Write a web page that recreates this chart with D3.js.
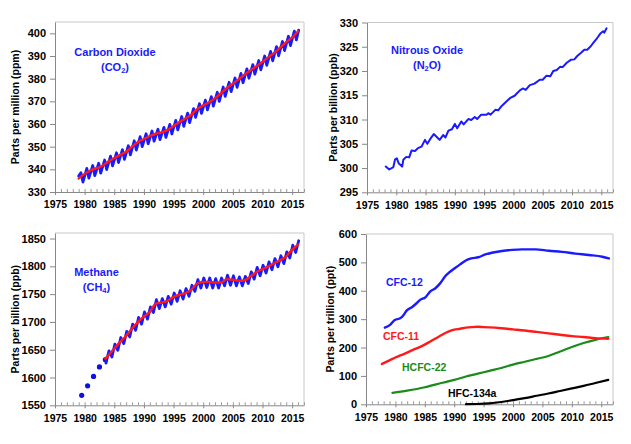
<!DOCTYPE html>
<html><head><meta charset="utf-8">
<script src="https://cdn.jsdelivr.net/npm/d3@7/dist/d3.min.js"></script>
<style>
body{margin:0;background:#fff;}
svg{display:block;font-family:"Liberation Sans",Arial,sans-serif;}
</style></head>
<body><svg id="chart" width="631" height="444"></svg>
<script>
// ---------------- DATA ----------------
const xTickYears = [1975,1980,1985,1990,1995,2000,2005,2010,2015];

// Carbon dioxide (ppm): trend at Jan 1 of each year
const co2TrendYears = [1979,1980,1981,1982,1983,1984,1985,1986,1987,1988,1989,1990,1991,1992,1993,1994,1995,1996,1997,1998,1999,2000,2001,2002,2003,2004,2005,2006,2007,2008,2009,2010,2011,2012,2013,2014,2015,2016];
const co2Trend = [336.0,338.0,339.6,340.5,341.6,343.4,345.0,346.4,347.8,350.0,352.1,353.4,354.7,355.7,356.3,357.4,359.1,360.9,362.4,364.1,366.6,368.2,369.6,371.4,373.6,375.9,377.8,379.8,381.8,383.7,385.5,387.4,389.5,391.4,393.8,396.1,398.2,400.9];
// monthly-series seasonal maximum (around May) and minimum (around Sep) per year
const co2SeasonYears = [1979,1980,1981,1982,1983,1984,1985,1986,1987,1988,1989,1990,1991,1992,1993,1994,1995,1996,1997,1998,1999,2000,2001,2002,2003,2004,2005,2006,2007,2008,2009,2010,2011,2012,2013,2014,2015];
const co2SeasonMax = [338.5,340.4,341.7,342.7,344.1,345.8,347.3,348.7,350.4,352.6,354.4,355.7,356.9,357.7,358.5,359.8,361.6,363.3,364.8,366.8,369.0,370.5,372.1,374.0,376.3,378.4,380.3,382.3,384.3,386.2,388.0,390.0,392.0,394.1,396.4,398.7,401.0];
const co2SeasonMin = [334.4,336.1,337.2,338.3,339.9,341.5,343.0,344.4,346.4,348.5,350.0,351.3,352.4,353.1,354.1,355.6,357.4,359.0,360.6,362.9,364.7,366.2,367.9,370.0,372.2,374.3,376.2,378.2,380.2,382.0,383.9,385.9,387.9,390.1,392.4,394.6,397.1];
const co2SeriesStart = [1979.0, 337.0];
const co2SeriesEnd = [2016.1, 401.4];

// Nitrous oxide (ppb)
const n2oYears = [1978.2,1978.8,1979.5,1979.8,1980.1,1980.4,1981.0,1981.2,1981.7,1982.2,1982.6,1983.2,1983.7,1984.3,1984.9,1985.3,1985.8,1986.4,1987.0,1987.4,1988.0,1988.4,1988.9,1989.5,1990.0,1990.4,1991.1,1991.5,1992.3,1992.8,1993.4,1993.8,1994.5,1995.4,1995.7,1996.1,1996.9,1997.4,1998.0,1998.8,1999.4,2000.2,2001.1,2001.6,2002.1,2002.8,2003.6,2004.5,2005.0,2005.6,2006.3,2006.8,2007.4,2008.0,2008.4,2009.1,2009.8,2010.4,2010.9,2011.5,2012.1,2012.6,2013.2,2013.7,2014.3,2014.9,2015.3,2015.5,2015.9];
const n2oValues = [300.3,299.7,300.2,301.8,302.0,301.0,300.3,301.7,302.3,302.2,303.6,303.5,304.1,304.4,305.8,305.0,306.0,307.0,306.3,305.8,306.8,306.3,307.7,308.0,309.1,308.2,309.6,309.0,310.1,309.9,310.5,310.1,311.0,311.0,311.3,311.0,312.0,311.9,312.8,313.7,314.4,314.9,316.0,316.4,316.1,317.1,317.4,318.2,318.2,319.0,318.9,320.0,320.2,320.9,320.8,321.7,322.3,322.4,323.1,323.7,324.4,324.4,325.1,325.9,326.8,327.8,328.2,327.9,328.8];

// Methane (ppb)
const ch4FlaskYears = [1979.5,1980.5,1981.5,1982.5,1983.5];
const ch4FlaskValues = [1568,1585,1602,1619,1632];
const ch4TrendYears = [1983.5,1984,1985,1986,1987,1988,1989,1990,1991,1992,1993,1994,1995,1996,1997,1998,1999,2000,2001,2002,2003,2004,2005,2006,2007,2008,2009,2010,2011,2012,2013,2014,2015,2016];
const ch4Trend = [1634,1640,1652,1664,1675,1688,1700,1710,1718,1733,1735,1738,1745,1749,1752,1758,1769,1772,1772,1771,1771,1777,1776,1774,1775,1782,1790,1795,1800,1806,1811,1818,1830,1839];
const ch4SeasonYears = [1984,1985,1986,1987,1988,1989,1990,1991,1992,1993,1994,1995,1996,1997,1998,1999,2000,2001,2002,2003,2004,2005,2006,2007,2008,2009,2010,2011,2012,2013,2014,2015];
const ch4SeasonMax = [1648,1660,1672,1683,1696,1708,1718,1727,1740,1742,1746,1752,1756,1760,1766,1776,1779,1779,1778,1779,1784,1783,1781,1782,1790,1798,1802,1808,1814,1819,1826,1838];
const ch4SeasonMin = [1637,1649,1661,1673,1685,1696,1705,1717,1724,1727,1732,1737,1741,1746,1755,1761,1762,1761,1761,1765,1766,1765,1765,1769,1777,1783,1788,1794,1799,1805,1815,1825];
const ch4SeriesStart = [1983.6, 1626];
const ch4SeriesEnd = [2016.1, 1846];

// Halocarbons (ppt)
const cfc12Years = [1978.2,1979.1,1979.9,1980.8,1981.4,1981.9,1982.8,1983.6,1984.2,1985.1,1985.9,1986.8,1987.6,1988.5,1989.3,1990.2,1991.0,1991.9,1992.9,1994.1,1995.3,1996.4,1998.1,1999.8,2001.5,2003.8,2006.1,2008.3,2010.6,2012.9,2015.2,2016.3];
const cfc12Values = [270,280,297,303,315,330,342,356,368,377,397,409,426,452,467,481,493,506,514,518,528,534,540,544,546,546,541,537,531,526,520,514];
const cfc11Years = [1977.7,1979,1980,1981.5,1983,1984.5,1986,1987.5,1989,1990,1991,1992,1993,1994,1995,1996,1998,2000,2002,2004,2006,2008,2010,2012,2014,2016.2];
const cfc11Values = [142,155,165,178,192,205,222,240,256,263,266,270,272,273,272,271,268,264,260,255,250,245,240,237,233,231];
const hcfc22Years = [1979.5,1982,1985,1988,1990,1992,1994,1996,1998,2000,2002,2004,2006,2008,2010,2012,2014,2016.2];
const hcfc22Values = [40,48,60,76,86,98,108,118,128,140,150,160,170,186,202,216,227,237];
const hfc134aYears = [1992,1994,1996,1998,2000,2002,2004,2006,2008,2010,2012,2014,2016.2];
const hfc134aValues = [0.5,1,3,8,15,22,30,38,47,56,65,75,86];

// ---------------- DRAWING ----------------
const svg = d3.select("#chart");
const BLUE = "#1a1aff", RED = "#ff1a1a", GREEN = "#1a8c1a";
const seasonPhaseMax = 0.37, seasonPhaseMin = 0.71;

function panel(cfg){
  const g = svg.append("g");
  const x = d3.scaleLinear().domain([1975,2017]).range([cfg.left,cfg.right]);
  const y = d3.scaleLinear().domain(cfg.yDomain).range([cfg.bottom,cfg.top]);
  g.append("path").attr("d",`M${cfg.left},${cfg.top}H${cfg.right}V${cfg.bottom}`)
    .attr("fill","none").attr("stroke","#c8c8c8").attr("stroke-width",1);
  const minor = g.append("g").attr("transform",`translate(0,${cfg.bottom})`)
    .call(d3.axisBottom(x).tickValues(d3.range(1975,2018,1)).tickSize(-3).tickSizeOuter(0).tickFormat(""));
  minor.select(".domain").remove();
  minor.selectAll("line").attr("stroke","#999");
  const xa = g.append("g").attr("transform",`translate(0,${cfg.bottom})`)
    .call(d3.axisBottom(x).tickValues(xTickYears).tickSize(3).tickSizeOuter(0).tickPadding(6).tickFormat(d3.format("d")));
  xa.select(".domain").attr("stroke","#888");
  xa.selectAll("line").attr("stroke","#888");
  xa.selectAll("text").attr("font-size","10.5px").attr("font-weight","bold").attr("fill","#000");
  const ya = g.append("g").attr("transform",`translate(${cfg.left},0)`)
    .call(d3.axisLeft(y).tickValues(cfg.yTicks).tickSize(5).tickSizeOuter(0).tickPadding(4).tickFormat(d3.format("d")));
  ya.select(".domain").attr("stroke","#888");
  ya.selectAll("line").attr("stroke","#888");
  ya.selectAll("text").attr("font-size","11px").attr("font-weight","bold").attr("fill","#000");
  g.append("text").attr("transform",`translate(${cfg.labelX},${(cfg.top+cfg.bottom)/2}) rotate(-90)`)
    .attr("text-anchor","middle").attr("dominant-baseline","central")
    .attr("font-size","10.5px").attr("font-weight","bold").text(cfg.yLabel);
  return {g,x,y};
}

function lineFrom(p, pts, color, w, curve){
  p.g.append("path").datum(pts)
    .attr("d", d3.line().x(d=>p.x(d[0])).y(d=>p.y(d[1])).curve(curve||d3.curveLinear))
    .attr("fill","none").attr("stroke",color).attr("stroke-width",w)
    .attr("stroke-linejoin","round").attr("stroke-linecap","round");
}
function seasonal(start, yrs, mx, mn, end, phMax, phMin){
  const pts=[start];
  yrs.forEach((yr,i)=>{ pts.push([yr+phMax,mx[i]]); pts.push([yr+phMin,mn[i]]); });
  pts.push(end);
  return pts;
}
function title(p, x, y1, y2, main, pre, sub, post, color){
  p.g.append("text").attr("x",x).attr("y",y1).attr("text-anchor","middle")
    .attr("font-size","11px").attr("font-weight","bold").attr("fill",color).text(main);
  const t = p.g.append("text").attr("x",x).attr("y",y2).attr("text-anchor","middle")
    .attr("font-size","11px").attr("font-weight","bold").attr("fill",color);
  t.append("tspan").text(pre);
  t.append("tspan").attr("font-size","7.5px").attr("dy","2.5").text(sub);
  t.append("tspan").attr("dy","-2.5").text(post);
}
function label(p, x, y, txt, color){
  p.g.append("text").attr("x",x).attr("y",y).attr("font-size","10.5px")
    .attr("font-weight","bold").attr("fill",color).text(txt);
}

// Panel 1: CO2
const p1 = panel({left:55,right:304,top:22,bottom:192,yDomain:[330,405],yTicks:[330,340,350,360,370,380,390,400],labelX:15,yLabel:"Parts per million (ppm)"});
lineFrom(p1, seasonal(co2SeriesStart, co2SeasonYears, co2SeasonMax, co2SeasonMin, co2SeriesEnd, seasonPhaseMax, seasonPhaseMin), BLUE, 2.8);
lineFrom(p1, co2TrendYears.map((d,i)=>[d,co2Trend[i]]), RED, 2.4, d3.curveMonotoneX);
title(p1, 115, 56, 70.5, "Carbon Dioxide", "(CO", "2", ")", BLUE);

// Panel 2: N2O
const p2 = panel({left:367,right:613,top:22.5,bottom:192.3,yDomain:[295,330],yTicks:[295,300,305,310,315,320,325,330],labelX:333,yLabel:"Parts per billion (ppb)"});
lineFrom(p2, n2oYears.map((d,i)=>[d,n2oValues[i]]), BLUE, 2);
title(p2, 427, 54, 68.5, "Nitrous Oxide", "(N", "2", "O)", BLUE);

// Panel 3: CH4
const p3 = panel({left:55,right:304,top:233,bottom:405.3,yDomain:[1550,1860],yTicks:[1550,1600,1650,1700,1750,1800,1850],labelX:15,yLabel:"Parts per billion (ppb)"});
p3.g.selectAll("circle.flask").data(ch4FlaskYears).join("circle")
  .attr("cx",d=>p3.x(d)).attr("cy",(d,i)=>p3.y(ch4FlaskValues[i])).attr("r",2.6).attr("fill","#1010e0");
lineFrom(p3, seasonal(ch4SeriesStart, ch4SeasonYears, ch4SeasonMax, ch4SeasonMin, ch4SeriesEnd, 0.1, 0.6), BLUE, 2.8);
lineFrom(p3, ch4TrendYears.map((d,i)=>[d,ch4Trend[i]]), RED, 2.4, d3.curveMonotoneX);
title(p3, 96.5, 276, 290.5, "Methane", "(CH", "4", ")", BLUE);

// Panel 4: halocarbons
const p4 = panel({left:366,right:613,top:234,bottom:404.3,yDomain:[0,600],yTicks:[0,100,200,300,400,500,600],labelX:330,yLabel:"Parts per trillion (ppt)"});
lineFrom(p4, hfc134aYears.map((d,i)=>[d,hfc134aValues[i]]), "#000", 2.2, d3.curveMonotoneX);
lineFrom(p4, hcfc22Years.map((d,i)=>[d,hcfc22Values[i]]), GREEN, 2.2, d3.curveMonotoneX);
lineFrom(p4, cfc11Years.map((d,i)=>[d,cfc11Values[i]]), RED, 2.4, d3.curveMonotoneX);
lineFrom(p4, cfc12Years.map((d,i)=>[d,cfc12Values[i]]), BLUE, 2.4, d3.curveMonotoneX);
label(p4, 386, 285.5, "CFC-12", BLUE);
label(p4, 383, 340, "CFC-11", RED);
label(p4, 402, 371, "HCFC-22", GREEN);
label(p4, 448, 397, "HFC-134a", "#000");
</script></body></html>
